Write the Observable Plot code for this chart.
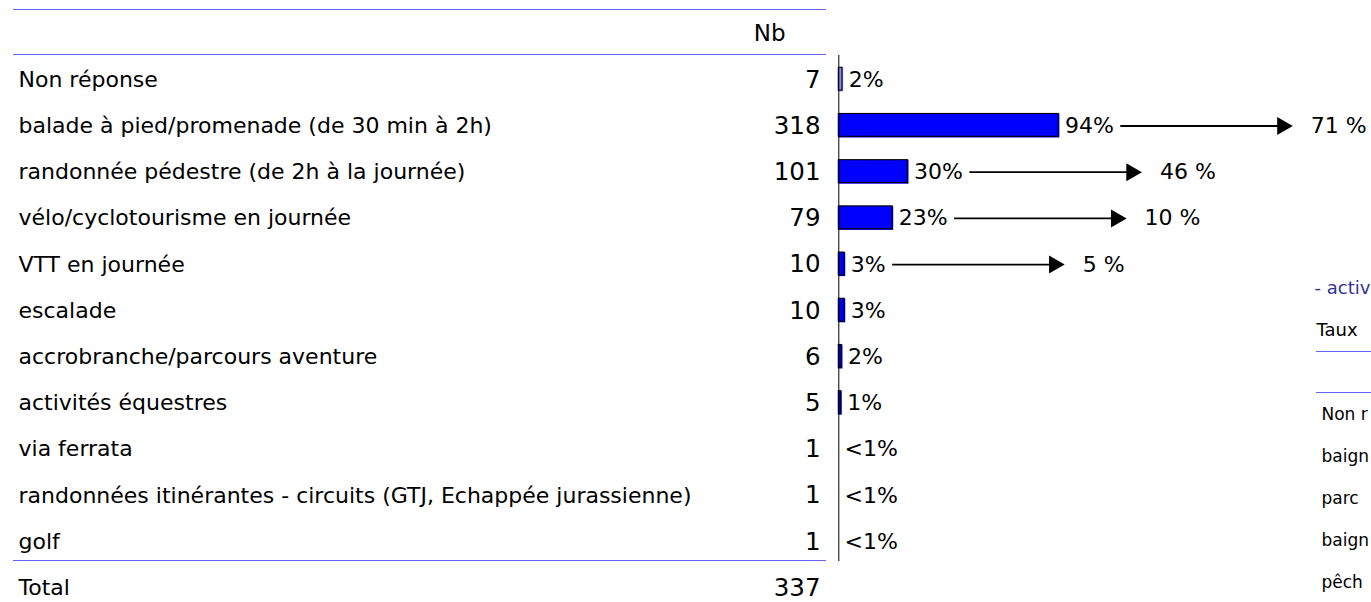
<!DOCTYPE html>
<html><head><meta charset="utf-8">
<script src="https://cdn.jsdelivr.net/npm/d3@7"></script>
<script src="https://cdn.jsdelivr.net/npm/@observablehq/plot@0.6"></script>
<style>
html,body{margin:0;padding:0;background:#fff;overflow:hidden;}
#wrap{position:relative;width:1371px;height:602px;overflow:hidden;background:#fff;}
#peek{position:absolute;left:1300px;top:262px;width:71px;height:340px;overflow:hidden;}
#wrap svg{max-width:none !important;}
</style></head>
<body><div id="wrap"><div id="main"></div><div id="peek"></div></div>
<script>
// ---- data ----
const headerLabel = "Nb";
const totalLabel = "Total";
const categories = [
  "Non réponse",
  "balade à pied/promenade (de 30 min à 2h)",
  "randonnée pédestre (de 2h à la journée)",
  "vélo/cyclotourisme en journée",
  "VTT en journée",
  "escalade",
  "accrobranche/parcours aventure",
  "activités équestres",
  "via ferrata",
  "randonnées itinérantes - circuits (GTJ, Echappée jurassienne)",
  "golf"
];
const counts = [7, 318, 101, 79, 10, 10, 6, 5, 1, 1, 1];
const total = 337;
const pctLabels = ["2%", "94%", "30%", "23%", "3%", "3%", "2%", "1%", "<1%", "<1%", "<1%"];
const compareCategories = [
  "balade à pied/promenade (de 30 min à 2h)",
  "randonnée pédestre (de 2h à la journée)",
  "vélo/cyclotourisme en journée",
  "VTT en journée"
];
const compareValues = ["71 %", "46 %", "10 %", "5 %"];
// visible fragments of the neighbouring table, cut by the right edge
const peekTitle = "- activ";
const peekSubtitle = "Taux";
const peekRows = ["Non r", "baign", "parc", "baign", "pêch"];

// ---- layout ----
const FONT = "DejaVu Sans";
const xRange = [838.3, 1072.6];
const k = (xRange[1] - xRange[0]) / 100;
const ruleColor = "#6262f0";

const rows = categories.map((label, i) => ({
  label, n: counts[i], pct: counts[i] / total * 100, pctLabel: pctLabels[i]
}));
const allRows = rows.concat([{label: totalLabel, n: total}]);

const ctx = document.createElement("canvas").getContext("2d");
ctx.font = `22px "${FONT}"`;
const arrows = compareCategories.map((label, i) => {
  const r = rows.find(d => d.label === label);
  const w = ctx.measureText(r.pctLabel).width;
  const start = r.pct + (5 + w + 7) / k;
  const tip = start + 172 / k;
  return {label, value: compareValues[i], start, tip};
});

const yDomain = [headerLabel, ...categories, totalLabel];

const main = Plot.plot({
  width: 1371, height: 602,
  marginLeft: 13, marginRight: 545, marginTop: 55, marginBottom: 41,
  style: {fontFamily: FONT, fontSize: "22px", color: "#000", background: "#fff", overflow: "visible"},
  x: {domain: [0, 100], range: xRange, axis: null},
  y: {type: "band", domain: yDomain, range: [10, 10 + 13 * 46.2], paddingInner: 0.48, paddingOuter: 0.24, round: false, axis: null},
  marks: [
    Plot.ruleY([headerLabel], {dy: -24.1, stroke: ruleColor, strokeWidth: 1}),
    Plot.ruleY([headerLabel], {dy: 20.9, stroke: ruleColor, strokeWidth: 1}),
    Plot.ruleY([totalLabel], {dy: -27.5, stroke: ruleColor, strokeWidth: 1}),
    Plot.text([headerLabel], {y: d => d, text: d => d, frameAnchor: "right", textAnchor: "end", dx: -41, fontSize: 23}),
    Plot.text(allRows, {y: "label", text: "label", frameAnchor: "left", textAnchor: "start", dx: 5, fontSize: 22, fill: "#000"}),
    Plot.text(allRows, {y: "label", text: d => String(d.n), frameAnchor: "right", textAnchor: "end", dx: -6, fontSize: 24.5, fill: "#000"}),
    Plot.barX(rows.filter(d => d.n > 1), {x: "pct", y: "label",
      fill: d => d.label === "Non réponse" ? "#8a8af6" : "#0000ff"}),
    Plot.barX(rows.filter(d => d.n > 1), {x: "pct", y: "label", fill: "none",
      stroke: "#000", strokeWidth: 1.1, insetRight: 1.2, insetBottom: 1.2}),
    Plot.ruleX([0], {stroke: "#000", strokeWidth: 1}),
    Plot.text(rows, {x: "pct", y: "label", text: "pctLabel", textAnchor: "start", dx: 5, fontSize: 22, fill: "#000"}),
    Plot.ruleY(arrows, {y: "label", x1: "start", x2: d => d.tip - 4 / k, stroke: "#000", strokeWidth: 1.8}),
    Plot.dot(arrows, {x: "tip", y: "label", symbol: "triangle", r: 6.7, rotate: 90, fill: "#000", stroke: "none", dx: -10.4}),
    Plot.text(arrows, {x: "tip", y: "label", text: "value", textAnchor: "start", dx: 18, fontSize: 22, fill: "#000"})
  ]
});
document.getElementById("main").appendChild(main);

const peekKeys = d3.range(3 + peekRows.length);
const peek = Plot.plot({
  width: 71, height: 340,
  marginLeft: 16, marginRight: 0, marginTop: 0, marginBottom: 0,
  style: {fontFamily: FONT, fontSize: "18px", color: "#000", background: "#fff", maxWidth: "none", overflow: "hidden"},
  y: {type: "point", domain: peekKeys, range: [26, 320], padding: 0, axis: null},
  marks: [
    Plot.text([0], {y: d => d, text: () => peekTitle, frameAnchor: "left", textAnchor: "start", dx: -2, fontSize: 18, fill: "#333399"}),
    Plot.text([1], {y: d => d, text: () => peekSubtitle, frameAnchor: "left", textAnchor: "start", dx: 0, fontSize: 18, fill: "#000"}),
    Plot.ruleY([2], {dy: -21, stroke: ruleColor}),
    Plot.ruleY([2], {dy: 20, stroke: ruleColor}),
    Plot.text(peekRows, {y: (d, i) => i + 3, text: d => d, frameAnchor: "left", textAnchor: "start", dx: 5, fontSize: 17, fill: "#000"})
  ]
});
document.getElementById("peek").appendChild(peek);
</script>
</body></html>
